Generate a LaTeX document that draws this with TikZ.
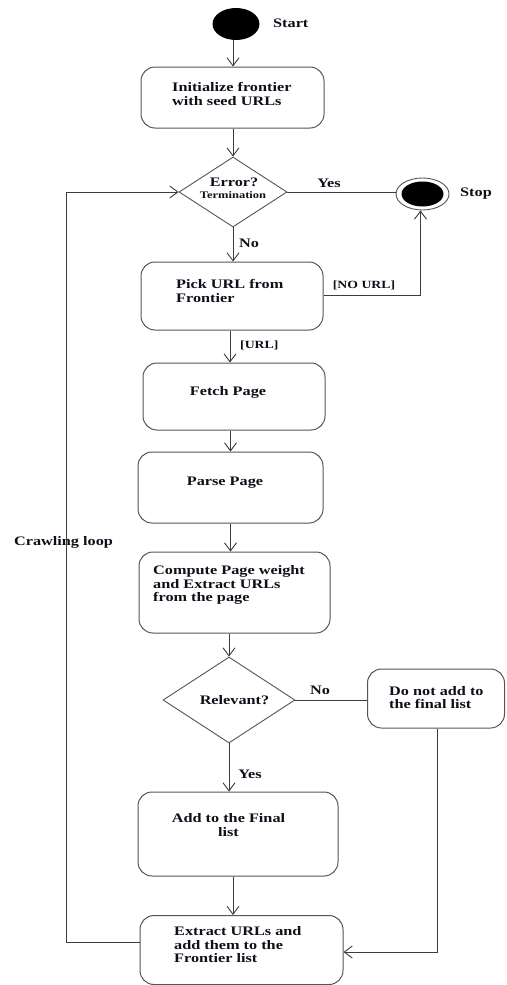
\documentclass[tikz,border=0pt]{standalone}
\usepackage{fontspec}
\setmainfont{Liberation Serif}[FakeStretch=1.25]
\usetikzlibrary{shapes.geometric,arrows.meta}
\definecolor{ln}{RGB}{60,60,60}
\definecolor{bx}{RGB}{85,85,85}
\definecolor{tx}{RGB}{15,15,25}
\tikzset{
  txt/.style={inner sep=0pt,text=tx,font=\fontsize{13pt}{13.5pt}\selectfont\bfseries},
  smalltxt/.style={inner sep=0pt,text=tx,font=\fontsize{10pt}{11pt}\selectfont\bfseries},
  actbox/.style={draw=bx,line width=1pt,rounded corners=14pt,inner sep=0pt},
  decbox/.style={draw=bx,line width=0.9pt,diamond,inner sep=0pt},
  conn/.style={draw=ln,line width=0.9pt},
  arr/.style={conn,-{Straight Barb[length=8pt,width=12pt]}}
}
\begin{document}
\begin{tikzpicture}[x=1pt,y=-1pt]
\useasboundingbox (0,0) rectangle (506,985);
\fill[white] (0,0) rectangle (506,985);

% start
\node[ellipse,fill=black,minimum width=47pt,minimum height=32pt,inner sep=0pt] (start) at (236,24) {};
\node[txt,anchor=west] (startl) at (273,23) {Start};

% initialize
\node[actbox,minimum width=183pt,minimum height=61pt] (init) at (232.5,97.5) {};
\node[txt,align=left,anchor=west] (initt) at (172,94) {Initialize frontier\\with seed URLs};

% error diamond
\node[decbox,minimum width=108pt,minimum height=70pt] (err) at (233,192) {};
\node[txt] (errt1) at (234,182) {Error?};
\node[smalltxt] (errt2) at (233,195.5) {Termination};

% stop
\node[ellipse,draw=bx,line width=0.9pt,fill=white,minimum width=53pt,minimum height=32pt,inner sep=0pt] (stop) at (422.5,194) {};
\node[ellipse,fill=black,minimum width=42pt,minimum height=25pt,inner sep=0pt] (stopin) at (422.5,194) {};
\node[txt,anchor=west] (stopl) at (460,194) {Stop};

% pick
\node[actbox,minimum width=182pt,minimum height=68pt] (pick) at (232,296) {};
\node[txt,align=left,anchor=west] (pickt) at (176,291) {Pick URL from\\Frontier};

% fetch
\node[actbox,minimum width=182pt,minimum height=67pt] (fetch) at (234,396.5) {};
\node[txt] (fetcht) at (228,392) {Fetch Page};

% parse
\node[actbox,minimum width=185pt,minimum height=71pt] (parse) at (230.5,487.5) {};
\node[txt] (parset) at (225,483) {Parse Page};

% compute
\node[actbox,minimum width=191pt,minimum height=81pt] (comp) at (234.5,592.5) {};
\node[txt,align=left,anchor=west] (compt) at (153,585) {Compute Page weight\\and Extract URLs\\from the page};

% relevant diamond
\node[decbox,minimum width=132pt,minimum height=86pt] (rel) at (229,700) {};
\node[txt] (relt) at (234.5,700) {Relevant?};

% do not add
\node[actbox,minimum width=137pt,minimum height=59pt] (dna) at (436,698.5) {};
\node[txt,align=left,anchor=west] (dnat) at (389,697.5) {Do not add to\\the final list};

% add
\node[actbox,minimum width=200pt,minimum height=84pt] (add) at (238,834) {};
\node[txt,align=center] (addt) at (228.5,825) {Add to the Final\\list};

% extract
\node[actbox,minimum width=203pt,minimum height=69pt] (ext) at (241.5,950) {};
\node[txt,align=left,anchor=west] (extt) at (174,945) {Extract URLs and\\add them to the\\Frontier list};

% labels
\node[txt] (yes1) at (329,183) {Yes};
\node[txt] (no1) at (249,243) {No};
\node[smalltxt,font=\fontsize{11pt}{12pt}\selectfont\bfseries] (nourl) at (364,285) {[NO URL]};
\node[smalltxt,font=\fontsize{11pt}{12pt}\selectfont\bfseries,anchor=west] (url) at (240,345) {[URL]};
\node[txt] (no2) at (320,690) {No};
\node[txt] (yes2) at (250,774) {Yes};
\node[txt] (loopl) at (63.5,542) {Crawling loop};

% connectors
\draw[arr] ([xshift=-3pt]start.south) -- ([xshift=-3pt]start.south |- init.north);
\draw[arr] (err.north |- init.south) -- (err.north);
\draw[conn] (err.east) -- (err.east -| stop.west);
\draw[arr] (err.south) -- (err.south |- pick.north);
\draw[arr] ([yshift=1pt]pick.east) -| ([xshift=-2pt]stop.south);
\draw[arr] ([xshift=-2pt]pick.south) -- ([xshift=-2pt]pick.south |- fetch.north);
\draw[arr] (parse.north |- fetch.south) -- (parse.north);
\draw[arr] (parse.south) -- (parse.south |- comp.north);
\draw[arr] (rel.north |- comp.south) -- (rel.north);
\draw[conn] (rel.east) -- (rel.east -| dna.west);
\draw[arr] (rel.south) -- (rel.south |- add.north);
\draw[arr] ([xshift=-5pt]add.south) -- ([xshift=-5pt]add.south |- ext.north);
\draw[arr] ([xshift=1pt]dna.south) |- ([yshift=-2pt]ext.east);
\coordinate (lb) at (66,942);
\draw[arr] ([yshift=8pt]ext.west) -- (lb) |- (err.west);
\end{tikzpicture}
\end{document}
